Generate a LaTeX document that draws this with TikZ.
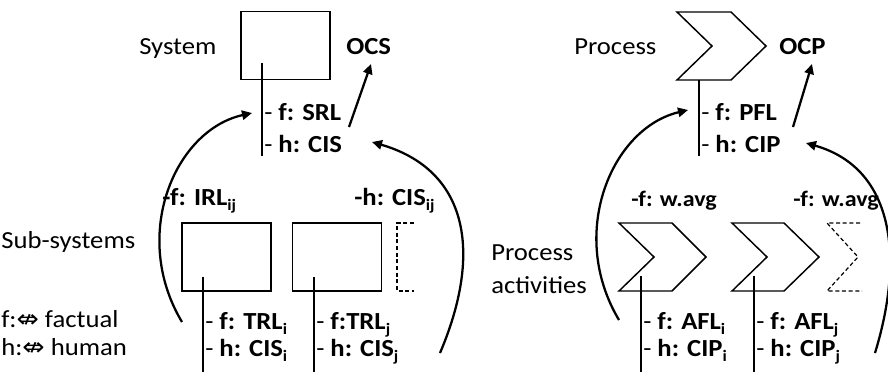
\documentclass[tikz,border=0pt]{standalone}
\usepackage{fontspec}
\setmainfont{Carlito}
\newfontfamily\symfont{DejaVu Sans}
\usetikzlibrary{arrows.meta}
\newcommand\sbx[1]{\raisebox{-0.45ex}{\fontsize{13}{13}\selectfont #1}}
\newcommand\dblarr{{\symfont\fontsize{20}{20}\selectfont ⇎}}
\newcommand\sq[1]{\scalebox{1}[0.92]{#1}}
\begin{document}
\begin{tikzpicture}[x=0.75pt,y=-0.75pt,
  txt/.style={inner sep=0pt, font=\fontsize{20}{24}\selectfont},
  lbl/.style={txt, anchor=base west},
  small/.style={lbl, font=\fontsize{18}{21}\selectfont},
  boxn/.style={draw, line width=1.1pt, minimum width=66.5pt, minimum height=51pt, inner sep=0pt},
  stem/.style={line width=1.8pt},
  arc/.style={line width=1.7pt, -{Triangle[length=7.5pt,width=7pt]}},
  shp/.style={line width=1.1pt, line join=miter},
  dsh/.style={line width=0.9pt, dash pattern=on 3pt off 2pt}]
\useasboundingbox (0,0) rectangle (888,372);

% ---------------- left diagram ----------------
\node[lbl] (system) at (139,54) {\sq{System}};
\node[boxn] (sys) at (285.5,45.5) {};
\coordinate (sysin) at (262,63);
\coordinate (sysout) at (262,156);
\draw[stem] (sysin) -- (sysout);
\node[lbl] (srl) at (264,120) {\sq{- \textbf{f: SRL}}};
\node[lbl] (cis) at (264,152) {\sq{- \textbf{h: CIS}}};
\node[lbl] (ocs) at (346,54) {\sq{\textbf{OCS}}};
\coordinate (ocsA) at (349,127);
\coordinate (ocsB) at (371,64);
\draw[arc] (ocsA) -- (ocsB);

\node[lbl] (subsys) at (1,248) {\sq{Sub-systems}};
\node[lbl] (fact) at (1,327) {\sq{f:\dblarr\ factual}};
\node[lbl] (hum) at (1,355) {\sq{h:\dblarr\ human}};

\node[lbl] (irl) at (162,205) {\sq{\textbf{-f: IRL\sbx{ij}}}};
\node[lbl] (cisij) at (354,205) {\sq{\textbf{-h: CIS\sbx{ij}}}};

\node[boxn] (sub1) at (226.5,257) {};
\node[boxn] (sub2) at (337,257) {};
\coordinate (dA) at (414,223);
\coordinate (dB) at (397,223);
\coordinate (dC) at (397,291);
\coordinate (dD) at (414,291);
\draw[dsh] (dA) -- (dB) -- (dC) -- (dD);

\coordinate (s1in) at (203,277);
\coordinate (s1out) at (203,372);
\coordinate (s2in) at (314,277);
\coordinate (s2out) at (314,372);
\draw[stem] (s1in) -- (s1out);
\draw[stem] (s2in) -- (s2out);
\node[lbl] (trli) at (205,329) {\sq{- \textbf{f: TRL\sbx{i}}}};
\node[lbl] (cisi) at (205,356) {\sq{- \textbf{h: CIS\sbx{i}}}};
\node[lbl] (trlj) at (316,329) {\sq{- \textbf{f:TRL\sbx{j}}}};
\node[lbl] (cisj) at (316,356) {\sq{- \textbf{h: CIS\sbx{j}}}};

\coordinate (la0) at (182,322);
\coordinate (la1) at (252,113);
\draw[arc] (la0) .. controls (130,235) and (175,130) .. (la1);
\coordinate (ra0) at (440,353);
\coordinate (ra1) at (372,142);
\draw[arc] (ra0) .. controls (483,252) and (468,170) .. (ra1);

% ---------------- right diagram ----------------
\node[lbl] (process) at (574,54) {\sq{Process}};
\draw[shp] (677,12) -- (731,12) -- (766,46) -- (731,80) -- (677,80) -- (712,46) -- cycle;
\coordinate (pin) at (699,80);
\coordinate (pout) at (699,156);
\draw[stem] (pin) -- (pout);
\node[lbl] (pfl) at (701,120) {\sq{- \textbf{f: PFL}}};
\node[lbl] (cip) at (701,152) {\sq{- \textbf{h: CIP}}};
\node[lbl] (ocp) at (779,54) {\sq{\textbf{OCP}}};
\coordinate (ocpA) at (793,127);
\coordinate (ocpB) at (812,64);
\draw[arc] (ocpA) -- (ocpB);

\node[lbl] (pa1) at (491,260) {\sq{Process}};
\node[lbl] (pa2) at (491,293) {\sq{activities}};

\node[small] (wavg1) at (631,206) {\sq{\textbf{-f: w.avg}}};
\node[small] (wavg2) at (793,206) {\sq{\textbf{-f: w.avg}}};

\draw[shp] (619,223) -- (672,223) -- (706,257) -- (672,291) -- (619,291) -- (654,257) -- cycle;
\draw[shp] (732,223) -- (784,223) -- (819,257) -- (784,291) -- (732,291) -- (767,257) -- cycle;
\coordinate (eA) at (860,223);
\coordinate (eB) at (827,223);
\coordinate (eC) at (858,257);
\coordinate (eD) at (827,291);
\coordinate (eE) at (862,291);
\draw[dsh] (eA) -- (eB) -- (eC) -- (eD) -- (eE);

\coordinate (a1in) at (641,276);
\coordinate (a1out) at (641,372);
\coordinate (a2in) at (754,276);
\coordinate (a2out) at (754,372);
\draw[stem] (a1in) -- (a1out);
\draw[stem] (a2in) -- (a2out);
\node[lbl] (afli) at (643,329) {\sq{- \textbf{f: AFL\sbx{i}}}};
\node[lbl] (cipi) at (643,356) {\sq{- \textbf{h: CIP\sbx{i}}}};
\node[lbl] (aflj) at (756,329) {\sq{- \textbf{f: AFL\sbx{j}}}};
\node[lbl] (cipj) at (756,356) {\sq{- \textbf{h: CIP\sbx{j}}}};

\coordinate (lb0) at (619,320);
\coordinate (lb1) at (688,110);
\draw[arc] (lb0) .. controls (567,233) and (612,128) .. (lb1);
\coordinate (rb0) at (875,353);
\coordinate (rb1) at (806,143);
\draw[arc] (rb0) .. controls (905,255) and (893,168) .. (rb1);
\end{tikzpicture}
\end{document}
